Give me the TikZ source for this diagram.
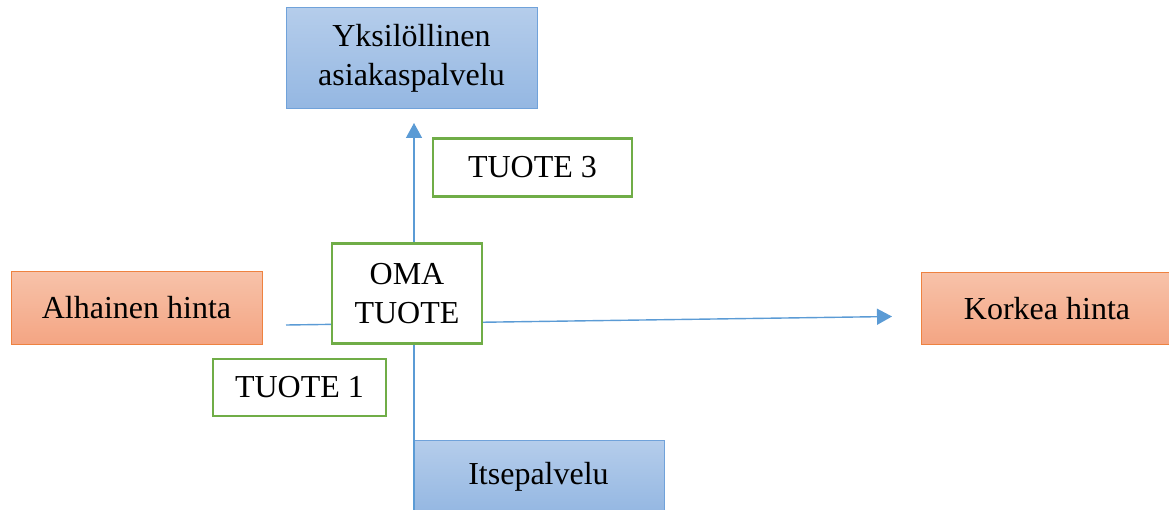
\documentclass[tikz,border=0pt]{standalone}
\usepackage{fontspec}
\setmainfont{Liberation Serif}
\definecolor{bluetop}{HTML}{B5CDEB}
\definecolor{bluebot}{HTML}{94B7E2}
\definecolor{blueedge}{HTML}{70A2DA}
\definecolor{orgtop}{HTML}{F7C2A9}
\definecolor{orgbot}{HTML}{F4A583}
\definecolor{orgedge}{HTML}{EE8240}
\definecolor{grn}{HTML}{70AD47}
\definecolor{arr}{HTML}{5B9BD5}
\tikzset{
  base/.style={font=\fontsize{32}{39}\selectfont, align=center, inner sep=0pt},
  bluebox/.style={base, draw=blueedge, line width=1pt, top color=bluetop, bottom color=bluebot},
  orangebox/.style={base, draw=orgedge, line width=1pt, top color=orgtop, bottom color=orgbot},
  greenbox/.style={base, draw=grn, line width=2.2pt, fill=white},
  axis/.style={draw=arr, line width=1.4pt},
  axisarrow/.style={axis, -{Triangle[length=15pt,width=16pt]}}
}
\usetikzlibrary{arrows.meta}
\begin{document}
\begin{tikzpicture}[x=1pt,y=-1pt]
\useasboundingbox (0,0) rectangle (1169,510);
\clip (0,0) rectangle (1169,510);
% top and bottom boxes
\node[bluebox, minimum width=251pt, minimum height=101pt] (top) at (411.5,58.5) {Yksilöllinen\\asiakaspalvelu};
\node[bluebox, minimum width=251pt, minimum height=73pt] (bot) at (538.5,476.5) {Itsepalvelu};
\node[orangebox, minimum width=251pt, minimum height=72pt] (low) at (136.5,308) {Alhainen hinta};
\node[orangebox, minimum width=252pt, minimum height=71pt] (high) at (1047,308.5) {Korkea hinta};
% axes
\coordinate (vstart) at (414,513);
\coordinate (vend) at (414,123);
\coordinate (hstart) at (286,325);
\coordinate (hend) at (892,316.5);
\draw[axisarrow] (vstart) -- (vend);
\draw[axisarrow] (hstart) -- (hend);
% products
\node[greenbox, minimum width=150pt, minimum height=100pt] (oma) at (407,293.5) {OMA\\TUOTE};
\node[greenbox, minimum width=199pt, minimum height=58pt] (t3) at (532.5,167.5) {TUOTE 3};
\node[greenbox, minimum width=173pt, minimum height=57pt] (t1) at (299.5,387.5) {TUOTE 1};
\end{tikzpicture}
\end{document}
